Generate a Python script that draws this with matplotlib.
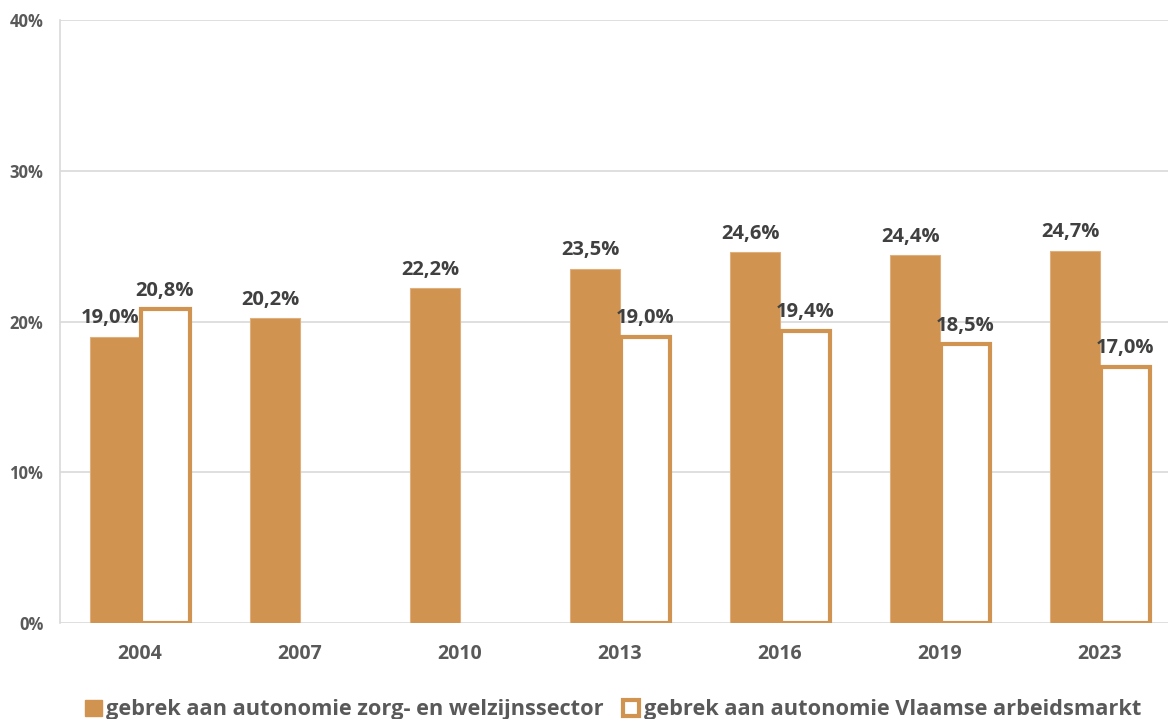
import numpy as np
import matplotlib.pyplot as plt
from matplotlib.patches import Patch

years = ["2004", "2007", "2010", "2013", "2016", "2019", "2023"]
zorg_welzijn = [19.0, 20.2, 22.2, 23.5, 24.6, 24.4, 24.7]
vlaamse_markt = [20.8, np.nan, np.nan, 19.0, 19.4, 18.5, 17.0]

series_names = ["gebrek aan autonomie zorg- en welzijnssector",
                "gebrek aan autonomie Vlaamse arbeidsmarkt"]

orange = "#D09350"
label_color = "#404040"
tick_color = "#595959"
grid_color = "#D9D9D9"

plt.rcParams['font.family'] = ['Open Sans', 'DejaVu Sans']
plt.rcParams['font.weight'] = 'bold'

fig = plt.figure(figsize=(11.68, 7.19), dpi=100)
ax = fig.add_axes([0.0514, 0.1335, 0.9589, 0.8387])

x = np.arange(len(years))
w = 0.3125

bars1 = ax.bar(x - w / 2, zorg_welzijn, width=w, color=orange,
               edgecolor="#E0B07C", linewidth=0.8, zorder=3)
bars2 = ax.bar(x + w / 2 + 0.005, vlaamse_markt, width=w * 0.98, color="white",
               edgecolor=orange, linewidth=3, zorder=3)

def fmt(v):
    return ("%.1f%%" % v).replace(".", ",")

for xi, v in zip(x, zorg_welzijn):
    ax.annotate(fmt(v), (xi - w / 2 - 0.03, v), xytext=(0, 6), textcoords="offset points",
                ha="center", va="bottom", fontsize=14.5, fontweight="bold", color=label_color)
for xi, v in zip(x, vlaamse_markt):
    if np.isnan(v):
        continue
    ax.annotate(fmt(v), (xi + w / 2, v), xytext=(0, 6), textcoords="offset points",
                ha="center", va="bottom", fontsize=14.5, fontweight="bold", color=label_color)

ax.set_xlim(-0.5, len(years) - 0.5)
ax.set_ylim(0, 40)
ax.set_yticks([0, 10, 20, 30, 40])
ax.set_yticklabels(["0%", "10%", "20%", "30%", "40%"])
ax.set_xticks(x)
ax.set_xticklabels(years)
ax.tick_params(axis="y", length=0, pad=12, labelsize=12, labelcolor=tick_color)
ax.tick_params(axis="x", length=0, pad=15, labelsize=14, labelcolor=tick_color)
for lbl in ax.get_xticklabels() + ax.get_yticklabels():
    lbl.set_fontweight("bold")

ax.grid(axis="y", color=grid_color, linewidth=1.2, zorder=0)
for s in ["top", "right", "bottom"]:
    ax.spines[s].set_visible(False)
ax.spines["left"].set_color(grid_color)
ax.spines["left"].set_linewidth(1.2)

handles = [Patch(facecolor=orange, edgecolor=orange),
           Patch(facecolor="white", edgecolor=orange, linewidth=3)]
leg = fig.legend(handles, series_names, loc="center", bbox_to_anchor=(0.525, 0.013),
                 ncol=2, frameon=False, handlelength=0.75, handleheight=0.75,
                 handletextpad=0.2, columnspacing=0.9,
                 prop={"size": 15.7, "weight": "bold"})
for t in leg.get_texts():
    t.set_color(tick_color)

fig.savefig("out.png", dpi=100)
